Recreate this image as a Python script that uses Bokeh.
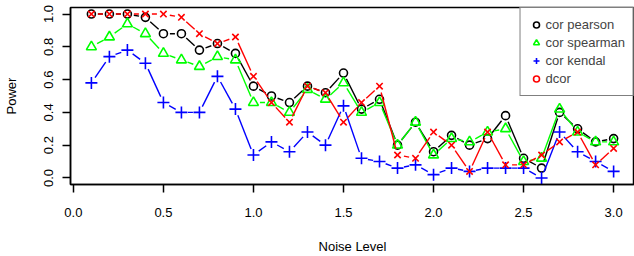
import math
from bokeh.plotting import figure
from bokeh.models import Range1d, Legend, LegendItem, FixedTicker
from bokeh.embed import file_html
from bokeh.resources import INLINE

# ---- data ----
noise_level = [0.1, 0.2, 0.3, 0.4, 0.5, 0.6, 0.7, 0.8, 0.9, 1.0,
               1.1, 1.2, 1.3, 1.4, 1.5, 1.6, 1.7, 1.8, 1.9, 2.0,
               2.1, 2.2, 2.3, 2.4, 2.5, 2.6, 2.7, 2.8, 2.9, 3.0]
cor_pearson = [1.00, 1.00, 1.00, 0.98, 0.88, 0.88, 0.78, 0.82, 0.76, 0.56,
               0.50, 0.46, 0.56, 0.52, 0.64, 0.42, 0.48, 0.20, 0.34, 0.16,
               0.26, 0.20, 0.24, 0.38, 0.12, 0.06, 0.40, 0.30, 0.22, 0.24]
cor_spearman = [0.80, 0.86, 0.94, 0.88, 0.76, 0.72, 0.68, 0.74, 0.72, 0.46,
                0.46, 0.40, 0.54, 0.48, 0.58, 0.40, 0.46, 0.20, 0.34, 0.14,
                0.24, 0.22, 0.28, 0.30, 0.10, 0.12, 0.42, 0.28, 0.22, 0.22]
cor_kendal = [0.58, 0.74, 0.78, 0.70, 0.46, 0.40, 0.40, 0.62, 0.42, 0.14,
              0.22, 0.16, 0.28, 0.20, 0.44, 0.12, 0.10, 0.06, 0.08, 0.02,
              0.06, 0.04, 0.06, 0.06, 0.06, 0.00, 0.28, 0.16, 0.10, 0.04]
dcor = [1.00, 1.00, 1.00, 1.00, 1.00, 0.98, 0.88, 0.82, 0.86, 0.62,
        0.46, 0.34, 0.56, 0.52, 0.34, 0.46, 0.56, 0.14, 0.12, 0.28,
        0.20, 0.04, 0.28, 0.08, 0.08, 0.14, 0.22, 0.28, 0.08, 0.18]
series_names = ["cor pearson", "cor spearman", "cor kendal", "dcor"]
x_ticks = [0.0, 0.5, 1.0, 1.5, 2.0, 2.5, 3.0]
y_ticks = [0.0, 0.2, 0.4, 0.6, 0.8, 1.0]

FONT = "Liberation Sans"
W, H = 634, 256
ML, MB, MT = 70, 72, 7
X0, X1 = -0.016, 3.116
Y0, Y1 = -0.04, 1.04

p = figure(width=W, height=H, output_backend="svg", toolbar_location=None,
           x_range=Range1d(X0, X1), y_range=Range1d(Y0, Y1),
           min_border_left=ML, min_border_right=0, min_border_top=MT,
           min_border_bottom=MB)
p.background_fill_color = "white"
p.border_fill_color = "white"
p.outline_line_color = "black"
p.outline_line_width = 1.5
p.xgrid.visible = False
p.ygrid.visible = False

# pixel scale (approx) used for R-style "type b" gaps around points
sx = (W - ML) / (X1 - X0)
sy = (H - MB - MT) / (Y1 - Y0)
GAP = 6.5


def gapped_segments(xs, ys):
    x0s, y0s, x1s, y1s = [], [], [], []
    for i in range(len(xs) - 1):
        dx = (xs[i + 1] - xs[i]) * sx
        dy = (ys[i + 1] - ys[i]) * sy
        L = math.hypot(dx, dy)
        if L <= 2 * GAP:
            continue
        f = GAP / L
        x0s.append(xs[i] + (xs[i + 1] - xs[i]) * f)
        y0s.append(ys[i] + (ys[i + 1] - ys[i]) * f)
        x1s.append(xs[i + 1] - (xs[i + 1] - xs[i]) * f)
        y1s.append(ys[i + 1] - (ys[i + 1] - ys[i]) * f)
    return x0s, y0s, x1s, y1s


specs = [
    (cor_pearson, "black", "circle", 8),
    (cor_spearman, "#00FF00", "triangle", 10),
    (cor_kendal, "#0000FF", "cross", 12),
    (dcor, "#FF0000", "x", 9),
]

marker_renderers = []
for vals, col, mk, sz in specs:
    x0s, y0s, x1s, y1s = gapped_segments(noise_level, vals)
    p.segment(x0=x0s, y0=y0s, x1=x1s, y1=y1s, line_color=col, line_width=1.4)
    r = p.scatter(x=noise_level, y=vals, marker=mk, size=sz, line_color=col,
                  fill_color=None, line_width=1.6)
    marker_renderers.append(r)

# legend shows an open red circle for dcor (as in the reference); this
# helper renderer has no drawable point (NaN) so it only appears in the legend
dummy = p.scatter(x=[math.nan], y=[math.nan], marker="circle", size=8,
                  line_color="#FF0000", fill_color=None, line_width=1.6)
legend_renderers = marker_renderers[:3] + [dummy]
items = [LegendItem(label=n, renderers=[r]) for n, r in zip(series_names, legend_renderers)]
legend = Legend(items=items, location="top_right", margin=0, padding=8,
                spacing=1, label_height=17, glyph_height=17, glyph_width=15,
                label_standoff=2, label_text_font=FONT,
                label_text_font_size="13px", border_line_color="black",
                border_line_width=1.5, background_fill_color="white",
                background_fill_alpha=1.0)
p.add_layout(legend)

for ax in (p.xaxis[0], p.yaxis[0]):
    ax.axis_line_color = "black"
    ax.axis_line_width = 1.5
    ax.major_tick_line_color = "black"
    ax.major_tick_line_width = 1.5
    ax.major_tick_out = 8
    ax.major_tick_in = 0
    ax.minor_tick_line_color = None
    ax.major_label_text_font = FONT
    ax.major_label_text_font_size = "13px"
    ax.major_label_text_color = "black"
    ax.axis_label_text_font = FONT
    ax.axis_label_text_font_size = "13px"
    ax.axis_label_text_font_style = "normal"
    ax.axis_label_text_color = "black"

p.xaxis.ticker = FixedTicker(ticks=x_ticks)
p.yaxis.ticker = FixedTicker(ticks=y_ticks)
p.xaxis.major_label_overrides = {t: f"{t:.1f}" for t in x_ticks}
p.yaxis.major_label_overrides = {t: f"{t:.1f}" for t in y_ticks}
p.xaxis.axis_label = "Noise Level"
p.yaxis.axis_label = "Power"
p.xaxis.major_label_standoff = 15
p.xaxis.axis_label_standoff = 19
p.yaxis.major_label_orientation = "parallel"
p.yaxis.major_label_standoff = 9
p.yaxis.axis_label_standoff = 23

open("out.html", "w").write(file_html(p, INLINE))
